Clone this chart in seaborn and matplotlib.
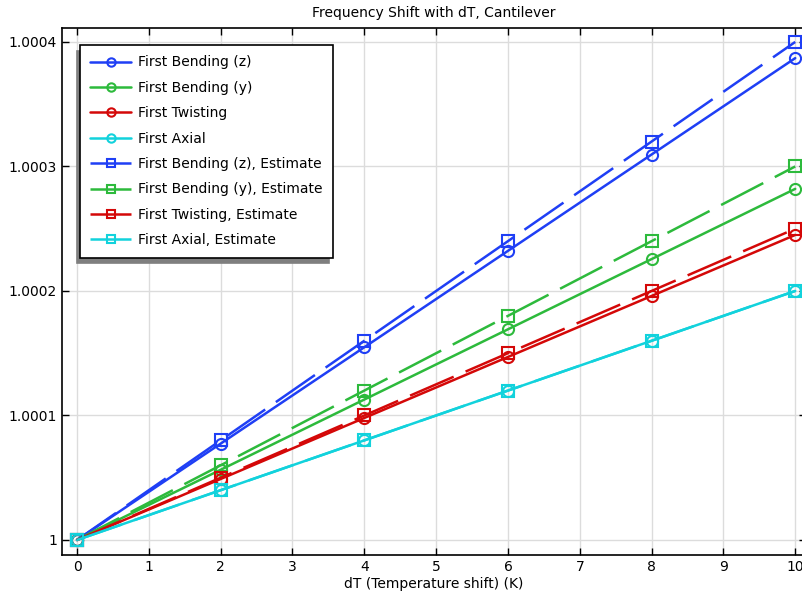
import numpy as np
import pandas as pd
import seaborn as sns
import matplotlib.pyplot as plt

# temperature shift (K)
dT = [0, 2, 4, 6, 8, 10]

# normalised frequency, computed modes
bend_z = [1.0, 1.0000774, 1.0001548, 1.0002322, 1.0003096, 1.000387]
bend_y = [1.0, 1.0000564, 1.0001128, 1.0001692, 1.0002256, 1.000282]
twist = [1.0, 1.000049, 1.000098, 1.000147, 1.000196, 1.000245]
axial = [1.0, 1.00004, 1.00008, 1.00012, 1.00016, 1.0002]

# normalised frequency, estimates
bend_z_est = [1.0, 1.00008, 1.00016, 1.00024, 1.00032, 1.0004]
bend_y_est = [1.0, 1.00006, 1.00012, 1.00018, 1.00024, 1.0003]
twist_est = [1.0, 1.00005, 1.0001, 1.00015, 1.0002, 1.00025]
axial_est = [1.0, 1.00004, 1.00008, 1.00012, 1.00016, 1.0002]

labels = ["First Bending (z)", "First Bending (y)", "First Twisting", "First Axial",
          "First Bending (z), Estimate", "First Bending (y), Estimate",
          "First Twisting, Estimate", "First Axial, Estimate"]
colors = ["#1f3ff5", "#2dba3c", "#d40808", "#12d2dc"]

x_ticks = list(range(11))
y_ticks = [1.0, 1.0001, 1.0002, 1.0003, 1.0004]
y_ticklabels = ["1", "1.0001", "1.0002", "1.0003", "1.0004"]

sns.set_style("ticks")
plt.rcParams['font.family'] = ['DejaVu Sans']
plt.rcParams['text.color'] = 'black'
plt.rcParams['axes.labelcolor'] = 'black'

fig = plt.figure(figsize=(8.02, 5.96), dpi=100)
ax = fig.add_axes([62 / 802, 41 / 596, 744 / 802, 527 / 596])

series = [bend_z, bend_y, twist, axial]
series_est = [bend_z_est, bend_y_est, twist_est, axial_est]

lw = 1.8
for i, vals in enumerate(series):
    sns.lineplot(x=dT, y=vals, ax=ax, color=colors[i], label=labels[i],
                 linewidth=lw, marker="o", markersize=8,
                 markerfacecolor="none", markeredgecolor=colors[i],
                 markeredgewidth=1.5)
for i, vals in enumerate(series_est):
    sns.lineplot(x=dT, y=vals, ax=ax, color=colors[i], label=labels[i + 4],
                 linewidth=lw, linestyle=(0, (19, 5.2)), marker="s", markersize=8,
                 markerfacecolor="none", markeredgecolor=colors[i],
                 markeredgewidth=1.5)

ax.set_xlim(-0.209, 10.15)
ax.set_ylim(1 - 1.205e-5, 1.0004 + 1.12e-5)
ax.set_xticks(x_ticks)
ax.set_yticks(y_ticks)
ax.set_yticklabels(y_ticklabels)
ax.tick_params(direction="in", top=True, right=True, length=5, width=1,
               labelsize=10, colors="black")
ax.grid(True, color="#dcdcdc", linewidth=1)
for s in ax.spines.values():
    s.set_color("black")
    s.set_linewidth(1.2)

ax.set_title("Frequency Shift with dT, Cantilever", fontsize=10, pad=8, color="black")
ax.set_xlabel("dT (Temperature shift) (K)", fontsize=10, labelpad=2)
ax.set_ylabel("")

leg = ax.legend(loc="upper left", bbox_to_anchor=(18 / 744, 1 - 17 / 527),
                borderaxespad=0, fontsize=10, frameon=True, fancybox=False,
                edgecolor="black", framealpha=1, handlelength=2.9,
                handletextpad=0.5, labelspacing=0.82, borderpad=0.75,
                markerscale=0.75,
                shadow={"ox": -2.5, "oy": -4, "facecolor": "#7f7f7f",
                        "edgecolor": "#7f7f7f", "alpha": 1})
leg.get_frame().set_linewidth(1.2)
for t in leg.get_texts():
    t.set_color("black")

fig.savefig("out.png", dpi=100)
